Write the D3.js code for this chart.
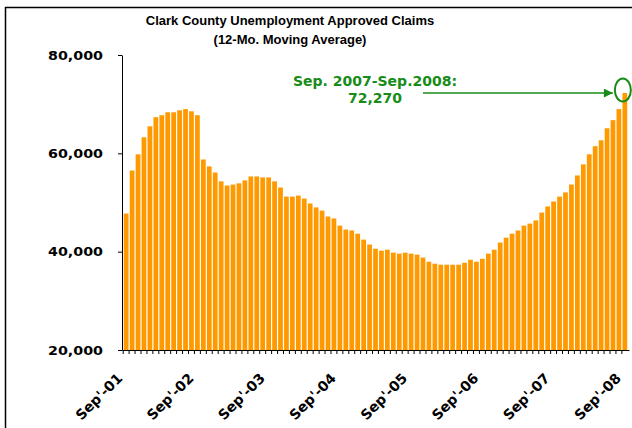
<!DOCTYPE html>
<html>
<head>
<meta charset="utf-8">
<script src="https://cdn.jsdelivr.net/npm/d3@7"></script>
<style>
  body { margin: 0; background: #fff; }
  svg { display: block; }
</style>
</head>
<body>
<svg id="chart"></svg>
<script>
// 12-month moving average of approved claims, Sep-01 .. Sep-08
const values = [
  47750, 56500, 59800, 63250, 65500, 67350, 67750, 68350, 68350, 68750, 69000, 68550,
  67750, 58750, 57350, 56100, 54300, 53450, 53650, 53900, 54500, 55300, 55300, 55100,
  55100, 54300, 53050, 51200, 51200, 51400, 50800, 49800, 49000, 48350, 47150, 46750,
  45300, 44500, 44300, 43650, 42450, 41450, 40600, 40200, 40400, 39800, 39600, 39800,
  39600, 39400, 38800, 37950, 37550, 37350, 37350, 37350, 37350, 37750, 38350, 37950,
  38550, 39600, 40400, 41850, 42850, 43650, 44300, 45300, 45700, 46350, 47950, 49200,
  50200, 51200, 52050, 53650, 55500, 57750, 59800, 61450, 62650, 65100, 66750, 69000,
  72270
];
const monthNames = ["Jan","Feb","Mar","Apr","May","Jun","Jul","Aug","Sep","Oct","Nov","Dec"];
const categories = values.map((d, i) => monthNames[(8 + i) % 12] + "-" + String(1 + Math.floor((8 + i) / 12)).padStart(2, "0"));
const tickCats = ["Sep-01", "Sep-02", "Sep-03", "Sep-04", "Sep-05", "Sep-06", "Sep-07", "Sep-08"];
const tickLabels = ["Sep'-01", "Sep'-02", "Sep'-03", "Sep'-04", "Sep'-05", "Sep'-06", "Sep'-07", "Sep'-08"];
const yTicks = [20000, 40000, 60000, 80000];
const noteLines = ["Sep. 2007-Sep.2008:", "72,270"];

const width = 632, height = 428;
const margin = {top: 55, right: 3, bottom: 78, left: 122};
const green = "#188c18";

const svg = d3.select('#chart').attr('width', width).attr('height', height);

// outer frame (runs off the right and bottom edges)
svg.append('rect')
  .attr('x', 5.5).attr('y', 7.5)
  .attr('width', width).attr('height', height)
  .attr('fill', 'none').attr('stroke', '#000').attr('stroke-width', 1.5);

let y = d3.scaleLinear()
  .domain([20000, 80000])
  .range([height - margin.bottom, margin.top]);

let x = d3.scaleBand()
  .domain(categories)
  .range([margin.left, width - margin.right])
  .paddingInner(0.2)
  .paddingOuter(0.3);

// title
const titleLines = ['Clark County Unemployment Approved Claims', '(12-Mo. Moving Average)'];
svg.append('g').selectAll('text')
  .data(titleLines)
  .join('text')
  .attr('x', 290).attr('y', (d, i) => 25 + i * 19)
  .attr('text-anchor', 'middle')
  .attr('font-family', 'Liberation Sans, Arial, sans-serif')
  .attr('font-weight', 'bold').attr('font-size', 13)
  .text(d => d);

// bars
svg.append('g').selectAll('rect')
  .data(values)
  .join('rect')
  .attr('x', (d, i) => x(categories[i]))
  .attr('y', d => y(d))
  .attr('width', x.bandwidth())
  .attr('height', d => y(20000) - y(d))
  .attr('fill', '#ff9900');

// y axis
let yAxis = g => g
  .attr('transform', `translate(${margin.left},0)`)
  .call(d3.axisLeft(y).tickValues(yTicks).tickSize(4).tickSizeOuter(0).tickPadding(15).tickFormat(d3.format(',')))
  .call(g => g.selectAll('line, path').attr('stroke', '#000'))
  .call(g => g.selectAll('text')
    .attr('fill', '#000')
    .attr('font-family', 'DejaVu Sans, Verdana, sans-serif')
    .attr('font-weight', 'bold').attr('font-size', 13)
    .attr('textLength', 55).attr('lengthAdjust', 'spacingAndGlyphs'));
svg.append('g').call(yAxis);

// x axis: ticks sit on the category boundaries
const step = x.step();
let xAxis = g => g
  .attr('transform', `translate(0,${height - margin.bottom})`)
  .call(d3.axisBottom(x).tickSize(4).tickSizeOuter(0).tickFormat(''))
  .call(g => g.selectAll('.tick line').attr('transform', `translate(${-step / 2},0)`).attr('stroke', '#000'))
  .call(g => g.select('.domain').attr('stroke', '#000').attr('stroke-width', 1.2));
svg.append('g').call(xAxis);

svg.append('g').selectAll('text')
  .data(tickCats)
  .join('text')
  .attr('transform', d => `translate(${x(d) + x.bandwidth() / 2 - 10},372) rotate(-45)`)
  .attr('text-anchor', 'end')
  .attr('dy', '0.72em')
  .attr('font-family', 'DejaVu Sans, Verdana, sans-serif')
  .attr('font-weight', 'bold').attr('font-size', 14)
  .text((d, i) => tickLabels[i]);

// y axis title (its last letter is clipped by the plot's top)
svg.append('clipPath').attr('id', 'titleClip')
  .append('rect').attr('x', 0).attr('y', 88).attr('width', 60).attr('height', 300);
svg.append('text')
  .attr('clip-path', 'url(#titleClip)')
  .attr('transform', 'translate(24,285) rotate(-90)')
  .attr('font-family', 'DejaVu Sans, Verdana, sans-serif')
  .attr('font-weight', 'bold').attr('font-size', 12.5)
  .attr('textLength', 202).attr('lengthAdjust', 'spacingAndGlyphs')
  .text('Unemployment Claims');

// annotation on the latest value
const last = categories[categories.length - 1];
const cx = x(last) + x.bandwidth() / 2;
const cy = y(values[values.length - 1]) - 3;

svg.append('defs').append('marker')
  .attr('id', 'arrow').attr('viewBox', '0 0 10 10')
  .attr('refX', 10).attr('refY', 5)
  .attr('markerWidth', 7).attr('markerHeight', 6)
  .attr('orient', 'auto')
  .append('path').attr('d', 'M0,0L10,5L0,10z').attr('fill', green);

svg.append('line')
  .attr('x1', 423).attr('y1', cy + 3)
  .attr('x2', cx - 12).attr('y2', cy + 3)
  .attr('stroke', green).attr('stroke-width', 1.5)
  .attr('marker-end', 'url(#arrow)');

svg.append('ellipse')
  .attr('cx', cx - 2).attr('cy', cy)
  .attr('rx', 8).attr('ry', 11.5)
  .attr('fill', 'none').attr('stroke', green).attr('stroke-width', 2);

svg.append('g').selectAll('text')
  .data(noteLines)
  .join('text')
  .attr('x', 375).attr('y', (d, i) => 86 + i * 17)
  .attr('text-anchor', 'middle')
  .attr('font-family', 'DejaVu Sans, Verdana, sans-serif')
  .attr('font-weight', 'bold').attr('font-size', 14)
  .attr('fill', green)
  .text(d => d);
</script>
</body>
</html>
